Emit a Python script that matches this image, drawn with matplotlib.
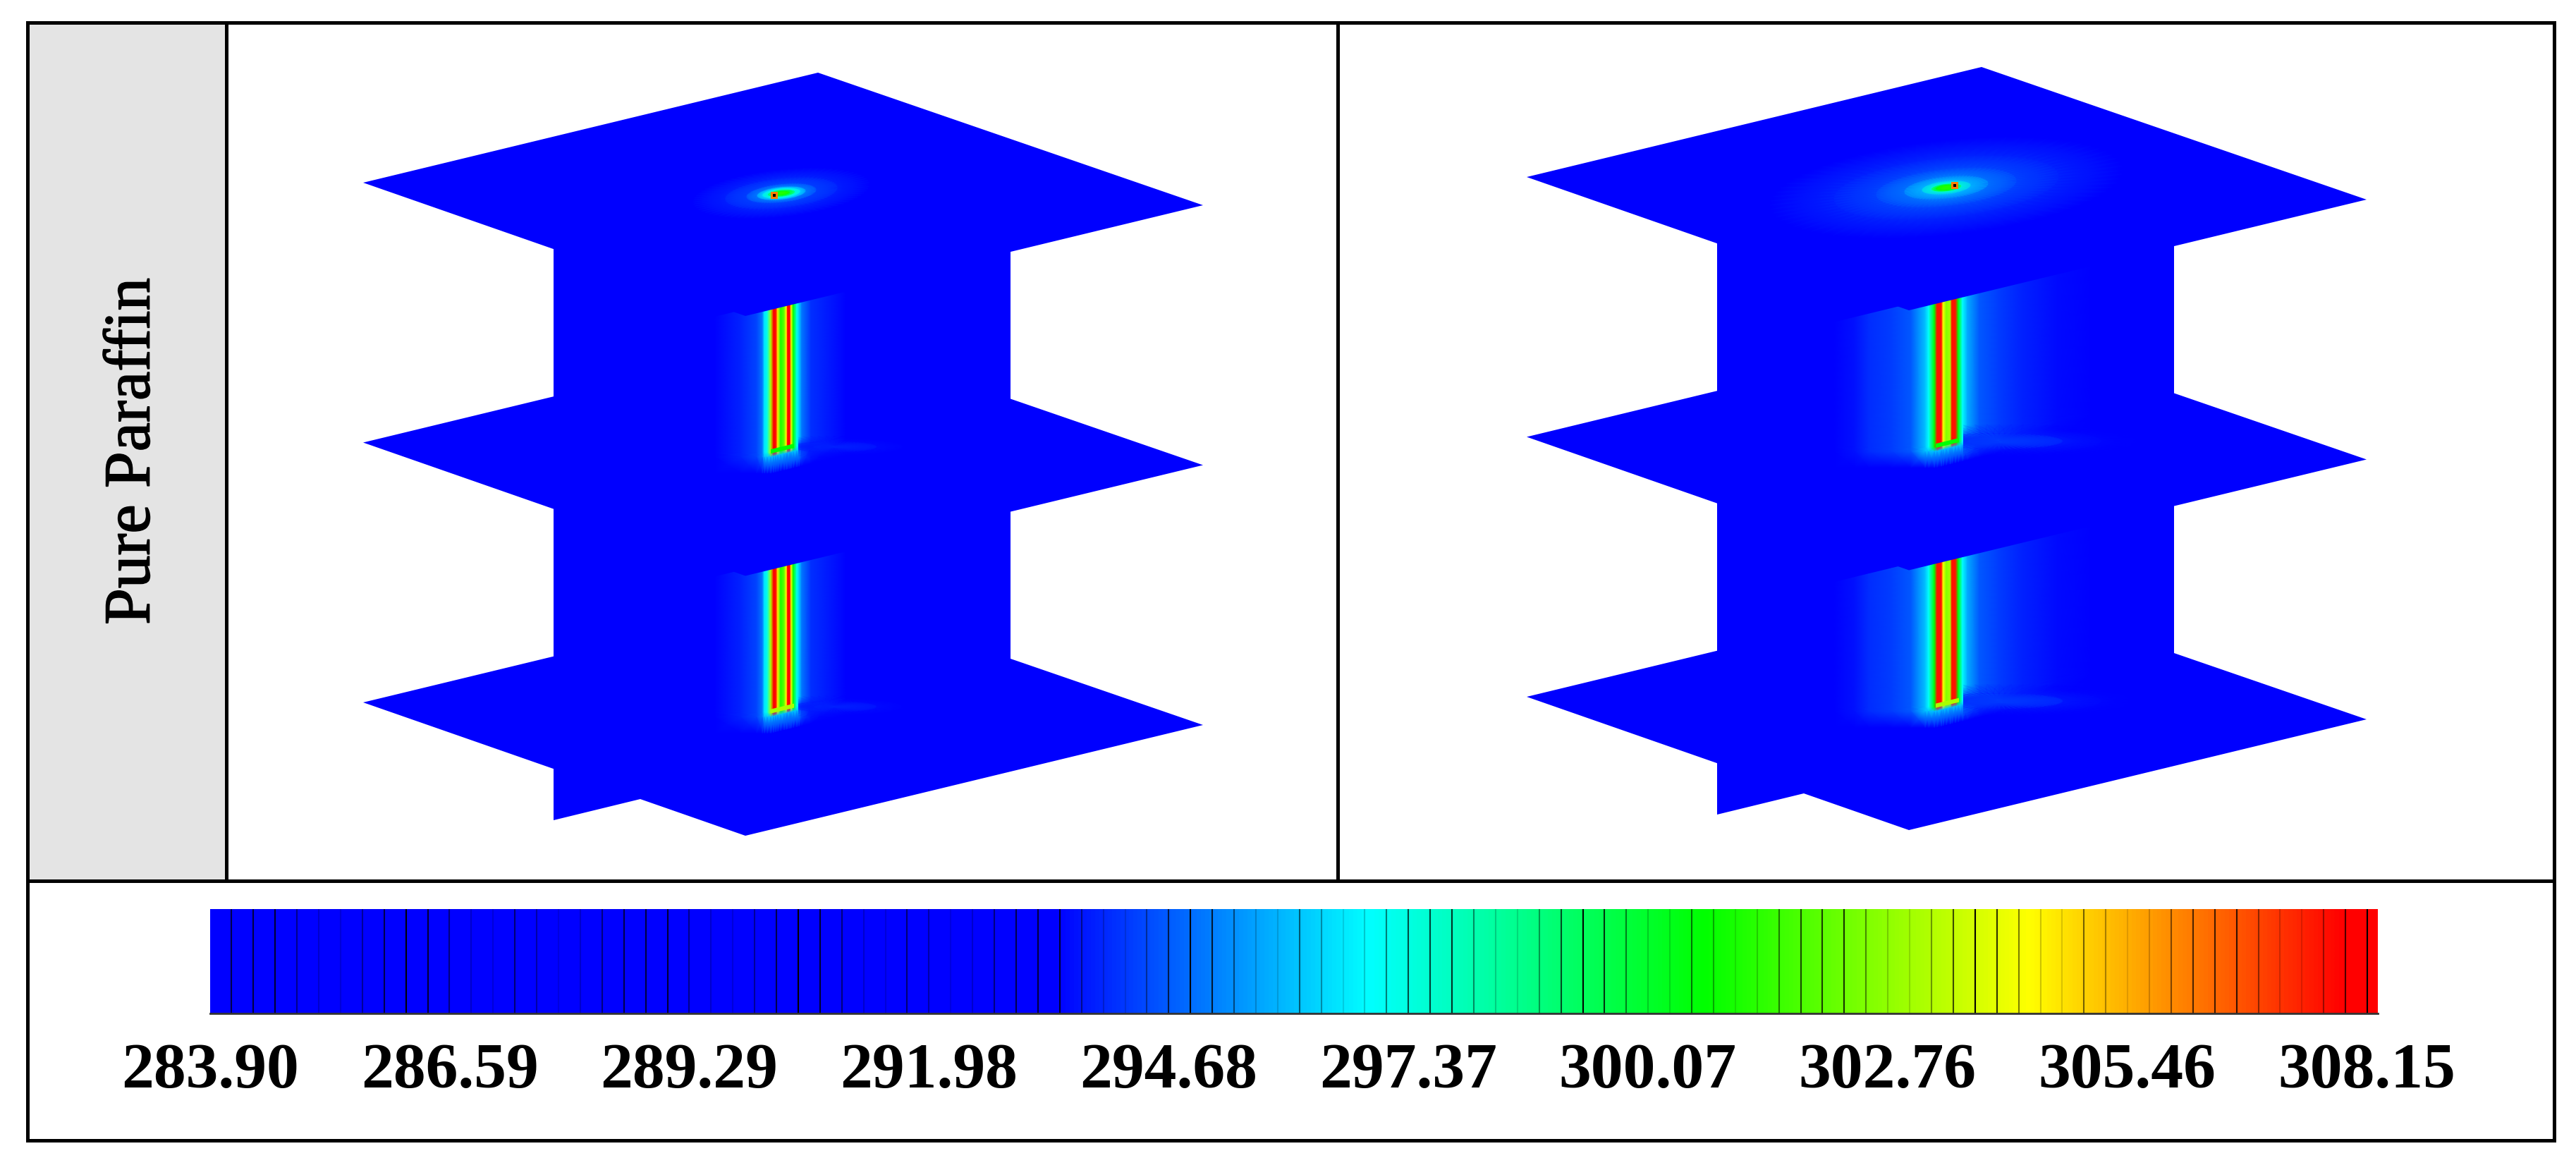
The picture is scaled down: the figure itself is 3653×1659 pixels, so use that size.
import numpy as np
import matplotlib
matplotlib.use('Agg')
import matplotlib.pyplot as plt
import matplotlib.patheffects as pe
from matplotlib.colors import LinearSegmentedColormap, Normalize
from matplotlib.patches import Polygon, Rectangle

# temperature scale
t_min = 283.90
t_max = 308.15
tick_labels = ['283.90', '286.59', '289.29', '291.98', '294.68',
               '297.37', '300.07', '302.76', '305.46', '308.15']
cmap_pos = [0, 0.39, 0.535, 0.69, 0.84, 0.985, 1]
cmap_col = ['#0000ff', '#0000ff', '#00ffff', '#00ff00', '#ffff00', '#ff0000', '#ff0000']
line_start = 284.14
line_step = 0.2438
line_alpha = [.7, .75, .8, .45, .2, .15, .4, .7, 1, .8, .5, .2, .15, .55, .35, .12, .2, .5]

# temperature across the heat pipe (offset from pipe axis in px, temp in K)
band_x_left = [-95, -58, -35, -27, -24, -20, -15, -11, -8, -5, -1, 4, 7, 9, 12, 14, 17, 22, 25, 29, 42, 92]
band_t_left = [293.36, 293.8, 294.3, 295.0, 296.5, 297.2, 303, 308, 308, 304.5, 301, 302, 304.3,
               308, 308, 304, 300.6, 297.2, 296.2, 295, 294, 293.36]
band_x_right = [-160, -130, -110, -77, -50, -30, -25, -17, -13, -7, -4.5, 0, 5.5, 8, 13, 17, 23, 30,
                47, 73, 107, 157, 207]
band_t_right = [293.36, 293.6, 293.95, 294.2, 294.6, 296, 296.9, 300.6, 307.5, 307.5, 304.3, 302.5, 303,
                307.5, 307.5, 300.6, 296.9, 295.7, 294.6, 294.2, 293.8, 293.5, 293.36]

# glow on the top plate round the pipe end (radius px, temp K)
spot_r_left = [0, 12, 20, 27, 35, 50, 80, 125]
spot_t_left = [301.5, 300.6, 297.5, 296.5, 295.2, 294.3, 293.8, 293.36]
spot_r_right = [0, 15, 22, 35, 60, 100, 160, 250]
spot_t_right = [301.5, 300.6, 297.5, 296, 295, 294.3, 293.8, 293.36]

# faint streak on the lower plates, right of the pipe bottoms
streak_r_left = [0, 60, 130]
streak_t_left = [294.0, 293.7, 293.36]
streak_r_right = [0, 90, 200]
streak_t_right = [294.5, 293.9, 293.36]

# plate corners: left, back, right, front
plate_x = [515, 1160, 1706, 1057]
plate_y = [259, 103, 291, 448]
plate_gap = 368.5
panel_dx = [0, 1650]
panel_dy = [0, -8]
pipe_x = [1108, 1110]

W, H = 3653, 1659
fig = plt.figure(figsize=(W / 100, H / 100), dpi=100)
ax = fig.add_axes([0, 0, 1, 1])
ax.set_xlim(0, W)
ax.set_ylim(H, 0)
ax.axis('off')

cmap = LinearSegmentedColormap.from_list('temp', list(zip(cmap_pos, cmap_col)), N=512)
norm = Normalize(t_min, t_max)
slope = -0.243
base_t = 293.36
soft_cmap = LinearSegmentedColormap.from_list('soft', [(0, 0, 1, 0), (0, 0.4, 1, 1)])
soft_norm = Normalize(base_t, 295)
z = [1]


def next_z():
    z[0] += 1
    return z[0]


def plate(dx, dy, level):
    xs = np.array(plate_x) + dx
    ys = np.array(plate_y) + dy + level * plate_gap
    p = Polygon(np.column_stack([xs, ys]), closed=True, fc='#0000ff', ec='none', zorder=next_z())
    ax.add_patch(p)
    return p


def glow(cx, cy, radii, temps, ratio, shear, clip, cm=cmap, nm=norm):
    # rings of an ellipse, the colour is blended by gouraud shading
    theta = np.linspace(0, 2 * np.pi, 73)
    r = np.array(radii, dtype=float)
    X = cx + np.outer(r, np.cos(theta))
    Y = cy + np.outer(r, np.sin(theta)) * ratio + shear * (X - cx)
    C = np.tile(np.array(temps)[:, None], (1, len(theta)))
    m = ax.pcolormesh(X, Y, C, shading='gouraud', cmap=cm, norm=nm, zorder=next_z())
    m.set_clip_path(clip)


def band(cx, y_bot, offsets, temps):
    # slanted only near the pipe, soft fade into the plate below it
    off = np.array(offsets, dtype=float)
    t = np.array(temps, dtype=float)
    tilt = slope * np.clip(off, -15, None)
    X = np.vstack([cx + off] * 4)
    Y = np.vstack([y_bot - 215 + slope * off, y_bot - 3 + tilt, y_bot + 3 + tilt, y_bot + 26 + tilt])
    C = np.vstack([t, t, np.minimum(t, 296.0), np.full(t.shape, base_t)])
    ax.pcolormesh(X, Y, C, shading='gouraud', cmap=cmap, norm=norm, zorder=next_z())


def pipe_cap(cx, y_bot, t_top):
    xs = [cx - 15, cx + 18, cx + 18, cx - 15]
    ys = [y_bot - 8 - 15 * slope, y_bot - 8 + 18 * slope, y_bot - 2 + 18 * slope, y_bot - 2 - 15 * slope]
    ax.add_patch(Polygon(np.column_stack([xs, ys]), closed=True, fc=cmap(norm(t_top)),
                         ec='none', zorder=next_z()))


def streak(cx, y_bot, radii, temps):
    # stays right of the pipe
    clip = Rectangle((cx + 24, y_bot - 60), 400, 120, transform=ax.transData)
    glow(cx + 75, y_bot - 8, radii, temps, 0.12, 0, clip, soft_cmap, soft_norm)


for i in range(2):
    dx, dy = panel_dx[i], panel_dy[i]
    cx = pipe_x[i] + dx
    b_x, b_t = (band_x_left, band_t_left) if i == 0 else (band_x_right, band_t_right)
    k_r, k_t = (streak_r_left, streak_t_left) if i == 0 else (streak_r_right, streak_t_right)
    s_r, s_t = (spot_r_left, spot_t_left) if i == 0 else (spot_r_right, spot_t_right)

    # central block, runs past the bottom plate at the lower left
    bx0, bx1 = 785 + dx, 1433 + dx
    ax.add_patch(Polygon([(bx0, 340 + dy), (bx1, 340 + dy), (bx1, 1005 + dy), (bx0, 1163 + dy)],
                         closed=True, fc='#0000ff', ec='none', zorder=next_z()))

    y_low = 1010 + dy
    y_up = y_low - plate_gap

    plate(dx, dy, 2)
    band(cx, y_low, b_x, b_t)
    streak(cx, y_low, k_r, k_t)
    pipe_cap(cx, y_low, 303)

    plate(dx, dy, 1)
    band(cx, y_up, b_x, b_t)
    streak(cx, y_up, k_r, k_t)
    pipe_cap(cx, y_up, 300.6)

    p = plate(dx, dy, 0)
    glow(cx, 274 + dy, s_r, s_t, 0.27, -0.1, p)

# hot dots in the top plate spots
dot_x = [1098, 2772]
dot_y = [277, 263]
ax.scatter(dot_x, dot_y, s=50, c=[cmap(norm(306))], marker='s', linewidths=0, zorder=next_z())
ax.scatter(dot_x, dot_y, s=10, c='black', marker='s', linewidths=0, zorder=next_z())

# frame
lw = 3.6
top_z = next_z()
ax.add_patch(Rectangle((39.5, 32), 281.5, 1217, fc='#e4e4e4', ec='none', zorder=top_z))
ax.add_patch(Rectangle((39.5, 32), 3622 - 39.5, 1617 - 32, fc='none', ec='black', lw=lw, zorder=top_z + 1))
ax.plot([39.5, 3622], [1249, 1249], color='black', lw=lw, zorder=top_z + 1, solid_capstyle='butt')
ax.plot([321, 321], [32, 1249], color='black', lw=lw, zorder=top_z + 1, solid_capstyle='butt')
ax.plot([1897, 1897], [32, 1249], color='black', lw=lw, zorder=top_z + 1, solid_capstyle='butt')

ax.text(189, 640, 'Pure Paraffin', rotation=90, ha='center', va='center',
        family='Liberation Serif', fontsize=67, zorder=top_z + 2,
        path_effects=[pe.withStroke(linewidth=1.2, foreground='black')])

# colour bar
bar_x0, bar_x1, bar_y0, bar_y1 = 298, 3372, 1289, 1437
cax = fig.add_axes([bar_x0 / W, 1 - bar_y1 / H, (bar_x1 - bar_x0) / W, (bar_y1 - bar_y0) / H])
cax.imshow(np.linspace(t_min, t_max, 1024)[None, :], aspect='auto', cmap=cmap, norm=norm,
           extent=[t_min, t_max, 0, 1], interpolation='bilinear')
levels = line_start + line_step * np.arange(99)
alphas = [line_alpha[k % len(line_alpha)] for k in range(99)]
for lev, a in zip(levels, alphas):
    cax.axvline(lev, color='black', lw=1.5, alpha=a)
cax.set_xlim(t_min, t_max)
cax.set_ylim(0, 1)
cax.set_xticks([])
cax.set_yticks([])
for s in ['left', 'top', 'right']:
    cax.spines[s].set_visible(False)
cax.spines['bottom'].set_color('#333333')
cax.spines['bottom'].set_linewidth(2)

label_x = np.linspace(298, 3356, len(tick_labels))
for x, t in zip(label_x, tick_labels):
    ax.text(x, 1520, t, ha='center', va='center', family='Liberation Serif',
            weight='bold', fontsize=66, zorder=top_z + 2)

fig.savefig('out.png', dpi=100, facecolor='white')
